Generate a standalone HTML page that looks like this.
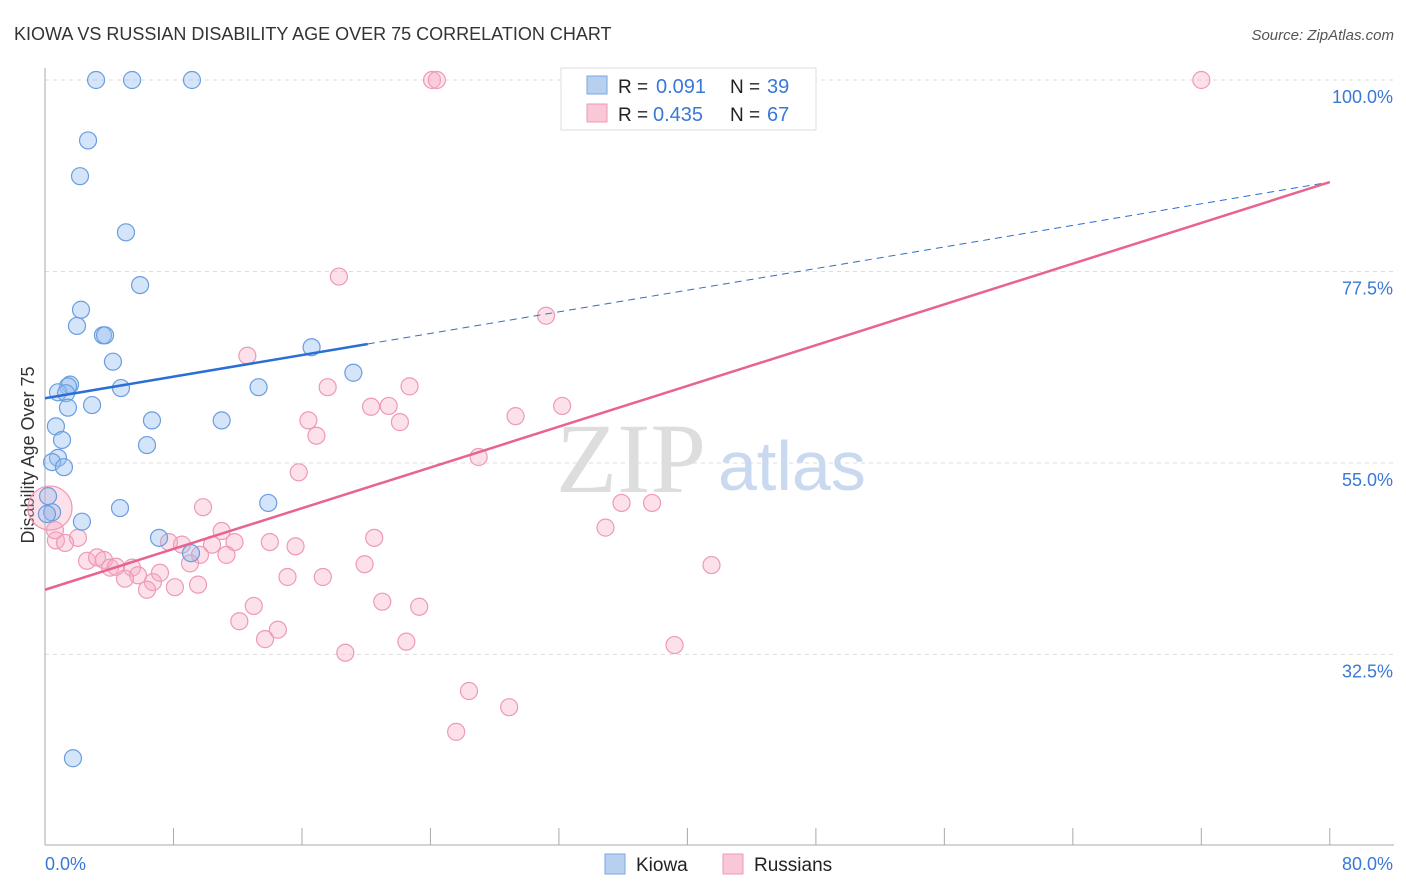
<!DOCTYPE html>
<html><head><meta charset="utf-8"><style>
body{margin:0;background:#fff;font-family:"Liberation Sans",sans-serif}
svg{display:block}
</style></head><body>
<svg id="c" width="1406" height="892">
<text x="14" y="40" font-size="18" fill="#333">KIOWA VS RUSSIAN DISABILITY AGE OVER 75 CORRELATION CHART</text>
<text x="1394" y="40" font-size="15" fill="#555" font-style="italic" text-anchor="end">Source: ZipAtlas.com</text>
<text transform="translate(34,455) rotate(-90)" font-size="18" fill="#333" text-anchor="middle">Disability Age Over 75</text>
<g id="grid"></g>
<text x="556" y="492" font-size="100" fill="#ddd" font-family="Liberation Serif">ZIP</text>
<text x="718" y="490" font-size="70" fill="#c9d9ef">atlas</text>
<g id="marks"></g>
<g>
<rect x="561" y="68" width="255" height="62" fill="#fff" stroke="#ddd"/>
<rect x="587" y="76" width="20" height="18" fill="#b8d0f0" stroke="#7aa6e0"/>
<rect x="587" y="104" width="20" height="18" fill="#f9c8d6" stroke="#ee9ab4"/>
<text x="618" y="93" font-size="19" fill="#222">R =</text>
<text x="656" y="93" font-size="20" fill="#3a78d6">0.091</text>
<text x="730" y="93" font-size="19" fill="#222">N =</text>
<text x="767" y="93" font-size="20" fill="#3a78d6">39</text>
<text x="618" y="121" font-size="19" fill="#222">R =</text>
<text x="653" y="121" font-size="20" fill="#3a78d6">0.435</text>
<text x="730" y="121" font-size="19" fill="#222">N =</text>
<text x="767" y="121" font-size="20" fill="#3a78d6">67</text>
</g>
<g>
<rect x="605" y="854" width="20" height="20" fill="#b8d0f0" stroke="#7aa6e0"/>
<text x="636" y="871" font-size="19" fill="#222">Kiowa</text>
<rect x="723" y="854" width="20" height="20" fill="#f9c8d6" stroke="#ee9ab4"/>
<text x="754" y="871" font-size="19" fill="#222">Russians</text>
</g>
</svg>
<script>
const yTicks=[100,77.5,55,32.5];
const yTickLabels=["100.0%","77.5%","55.0%","32.5%"];
const xEnds=["0.0%","80.0%"];
const kiowaX=[3.18,5.42,9.15,2.68,2.18,5.04,5.92,2.24,1.99,3.61,3.74,4.23,1.56,1.43,0.81,1.31,4.73,2.93,1.43,13.3,6.66,11.0,0.68,1.06,6.35,0.81,0.44,1.18,16.6,19.2,0.19,0.44,0.12,2.30,4.67,13.9,7.10,9.09,1.74];
const kiowaY=[100,100,100,92.9,88.7,82.1,75.9,73.0,71.1,70.0,70.0,66.9,64.2,64.0,63.3,63.2,63.8,61.8,61.5,63.9,60.0,60.0,59.3,57.7,57.1,55.6,55.1,54.5,68.6,65.6,51.1,49.2,49.0,48.1,49.7,50.3,46.2,44.4,20.3];
const rusX=[24.1,24.4,33.6,72.0,18.3,31.2,12.6,17.6,22.7,20.3,21.4,22.1,16.4,16.9,29.3,32.2,27.0,15.8,35.9,37.8,34.9,9.84,0.68,2.05,1.25,7.72,11.0,11.8,8.53,10.4,14.0,15.6,20.5,9.65,9.03,11.3,2.62,3.24,3.67,4.05,4.42,5.42,5.79,4.98,6.72,7.16,6.35,8.09,9.53,15.1,17.3,19.9,41.5,13.0,12.1,21.0,23.3,14.5,13.7,22.5,18.7,39.2,26.4,28.9,25.6,0.62,0.31];
const rusY=[100,100,100,100,76.9,72.3,67.6,63.9,64.0,61.6,61.7,59.8,60.0,58.2,60.5,61.7,55.7,53.9,50.3,50.3,47.4,49.8,45.9,46.2,45.6,45.7,47.0,45.7,45.4,45.4,45.7,45.2,46.2,44.2,43.2,44.2,43.5,43.9,43.6,42.7,42.8,42.7,41.8,41.4,41.0,42.1,40.1,40.4,40.7,41.6,41.6,43.1,43.0,38.2,36.4,38.7,38.1,35.4,34.3,34.0,32.7,33.6,28.2,26.3,23.4,47.1,49.7];
const kiowaTrend=[62.6,88.0], rusTrend=[40.1,88.0];
const NS="http://www.w3.org/2000/svg";
const X=v=>45+v*16.06, Y=v=>80+(100-v)*8.51;
function mk(t,a,p){const e=document.createElementNS(NS,t);for(const k in a)e.setAttribute(k,a[k]);p.appendChild(e);return e;}
const g=document.getElementById('grid'),m=document.getElementById('marks');
yTicks.forEach((t,i)=>{
 const l=mk('line',{x1:45,x2:1394,y1:Y(t),y2:Y(t),stroke:'#ddd','stroke-dasharray':'4,4'},g);
 
 
 const tx=mk('text',{x:1393,y:Y(t)+23,'font-size':18,fill:'#3a78d6','text-anchor':'end'},g);tx.textContent=yTickLabels[i];
 
 
});
mk('line',{x1:45,x2:45,y1:68,y2:845,stroke:'#aaa'},g);
mk('line',{x1:45,x2:1394,y1:845,y2:845,stroke:'#aaa'},g);
for(let i=0;i<=10;i++){const t=mk('line',{x1:X(i*8),x2:X(i*8),y1:828,y2:845,stroke:'#aaa'},g);
 
 }
const a=mk('text',{x:45,y:870,'font-size':18,fill:'#3a78d6'},g);a.textContent=xEnds[0];


const b=mk('text',{x:1393,y:870,'font-size':18,fill:'#3a78d6','text-anchor':'end'},g);b.textContent=xEnds[1];


rusX.forEach((x,i)=>{const c=mk('circle',{cx:X(x),cy:Y(rusY[i]),r:i==rusX.length-1?22:8.5,fill:'rgba(246,170,195,0.35)',stroke:'#ee9ab4','stroke-width':1.2},m);
 
 });
kiowaX.forEach((x,i)=>{const c=mk('circle',{cx:X(x),cy:Y(kiowaY[i]),r:8.5,fill:'rgba(150,190,240,0.4)',stroke:'#6a9de0','stroke-width':1.2},m);
 
 });
const kv=x=>kiowaTrend[0]+(kiowaTrend[1]-kiowaTrend[0])*x/80;
const l1=mk('line',{x1:X(0),y1:Y(kv(0)),x2:X(20.1),y2:Y(kv(20.1)),stroke:'#2a6fd6','stroke-width':2.5},m);


const l2=mk('line',{x1:X(20.1),y1:Y(kv(20.1)),x2:X(80),y2:Y(kv(80)),stroke:'#2a6fd6','stroke-width':1,'stroke-dasharray':'7,5'},m);


const l3=mk('line',{x1:X(0),y1:Y(rusTrend[0]),x2:X(80),y2:Y(rusTrend[1]),stroke:'#e8638f','stroke-width':2.5},m);


</script>
</body></html>
